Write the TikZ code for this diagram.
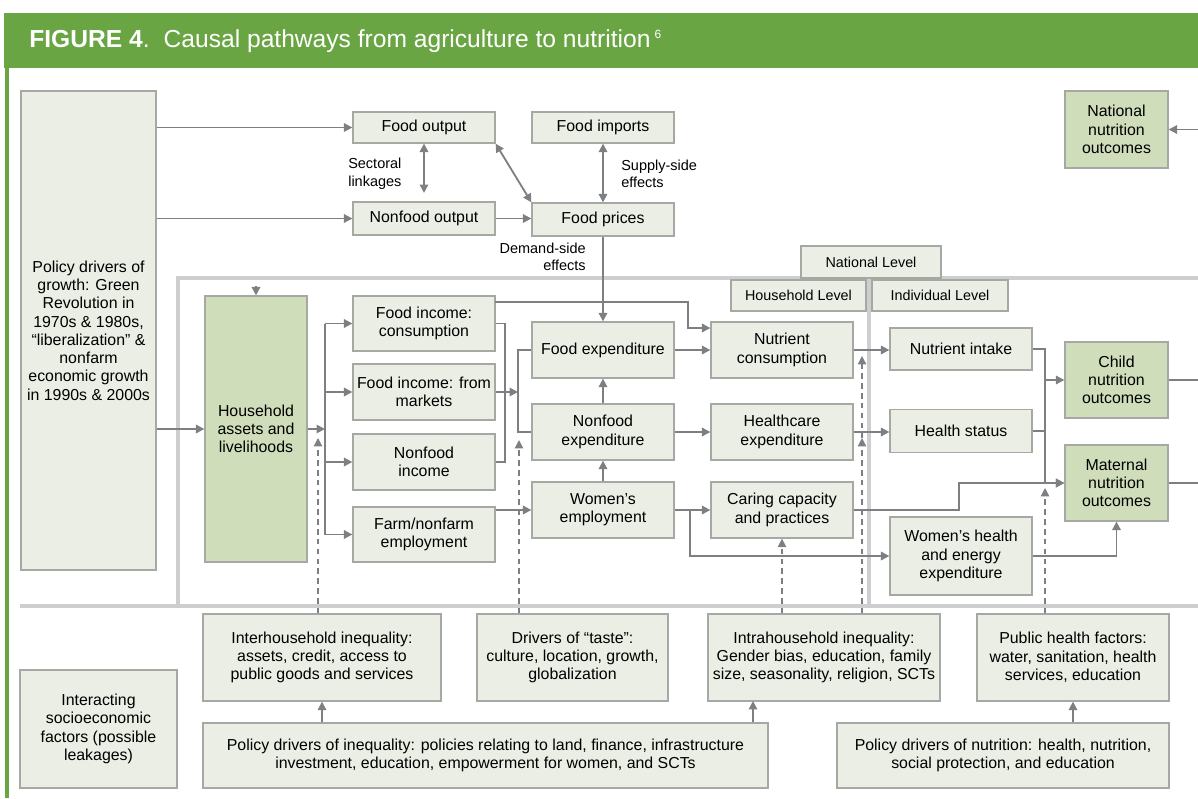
\documentclass[tikz,border=0pt]{standalone}
\usepackage{fontspec}
\setmainfont{Liberation Sans}
\usetikzlibrary{arrows.meta}
\definecolor{hdrgreen}{HTML}{6AA543}
\definecolor{boxfill}{HTML}{EBEEE4}
\definecolor{boxline}{HTML}{A6A8A3}
\definecolor{outfill}{HTML}{CFDDBA}
\definecolor{arrgray}{HTML}{7E7F83}
\definecolor{framegray}{HTML}{CDCECF}
\tikzset{
  box/.style 2 args={draw=boxline, fill=boxfill, line width=0.9pt, align=center, inner sep=0pt,
    minimum width=#1*0.025cm, minimum height=#2*0.025cm, font=\fontsize{11.3}{13}\selectfont},
  outbox/.style 2 args={box={#1}{#2}, fill=outfill},
  tab/.style 2 args={box={#1}{#2}, font=\fontsize{10.2}{12}\selectfont},
  lbl/.style={font=\fontsize{10.3}{12.5}\selectfont, inner sep=0pt},
  conn/.style={draw=arrgray, line width=1.3pt},
  arr/.style={conn, -{Triangle[length=6pt,width=6pt]}},
  dblarr/.style={conn, {Triangle[length=6pt,width=6pt]}-{Triangle[length=6pt,width=6pt]}},
  darr/.style={arr, line width=0.9pt, dash pattern=on 4pt off 3pt},
  frame/.style={draw=framegray, line width=2.8pt}
}

\begin{document}
\begin{tikzpicture}[x=0.025cm,y=-0.025cm]
\useasboundingbox (0,0) rectangle (1198,798);
% header band
\fill[hdrgreen] (4,13) rectangle (1198,68);
\draw[hdrgreen, line width=2.2pt] (7,68) -- (7,798);
\node[anchor=west, text=white, inner sep=0pt, font=\fontsize{17.5}{20}\selectfont] (title) at (29,41)
  {\textbf{FIGURE 4}.\hspace{10pt}Causal pathways from agriculture to nutrition\,\raisebox{6pt}{\fontsize{8.5}{9}\selectfont 6}};
% level frames
\draw[frame] (178,606) -- (178,278) -- (1198,278);
\draw[frame] (20,606) -- (1198,606);
\draw[frame] (869,278) -- (869,606);
\node[tab={140}{32}] (natl) at (871,262) {National Level};
\node[tab={135}{31}] (hhl) at (798.5,295.5) {Household Level};
\node[tab={136}{31}] (indl) at (940,295.5) {Individual Level};
\coordinate (rim) at (1198,0);

% top: growth and prices
\node[box={135}{479}] (pdg) at (88.5,330.5) {Policy drivers of\\growth: Green\\Revolution in\\1970s \& 1980s,\\“liberalization” \&\\nonfarm\\economic growth\\in 1990s \& 2000s};
\node[box={142}{31}] (fo) at (424,127.5) {Food output};
\node[box={142}{31}] (fimp) at (603,127.5) {Food imports};
\node[box={142}{33}] (nfo) at (424,218.5) {Nonfood output};
\node[box={142}{33}] (fp) at (603,219.5) {Food prices};
\node[lbl, anchor=west, align=left] (sect) at (348,174) {Sectoral\\linkages};
\node[lbl, anchor=west, align=left] (supp) at (621,174) {Supply-side\\effects};
\node[lbl, anchor=east, align=right] (dem) at (586,257) {Demand-side\\effects};

% household level
\node[outbox={102}{266}] (ha) at (256,429) {Household\\assets and\\livelihoods};
\node[box={142}{55}] (fic) at (424,323.5) {Food income:\\consumption};
\node[box={142}{56}] (fim) at (424,392) {Food income: from\\markets};
\node[box={142}{56}] (nfi) at (424,462) {Nonfood\\income};
\node[box={142}{55}] (fne) at (424,534.5) {Farm/nonfarm\\employment};
\node[box={142}{56}] (fe) at (603,350) {Food expenditure};
\node[box={142}{56}] (nfe) at (603,432) {Nonfood\\expenditure};
\node[box={142}{56}] (we) at (603,510) {Women’s\\employment};
\node[box={142}{56}] (nc) at (782,350) {Nutrient\\consumption};
\node[box={142}{56}] (he) at (782,432) {Healthcare\\expenditure};
\node[box={142}{56}] (cc) at (782,510) {Caring capacity\\and practices};

% individual level
\node[box={142}{42}] (ni) at (961,349) {Nutrient intake};
\node[box={142}{43}] (hs) at (961,431) {Health status};
\node[box={142}{78}] (wh) at (961,556) {Women’s health\\and energy\\expenditure};
\node[outbox={103}{76}] (cno) at (1116.5,380) {Child\\nutrition\\outcomes};
\node[outbox={103}{76}] (mno) at (1116.5,483) {Maternal\\nutrition\\outcomes};
\node[outbox={103}{77}] (nno) at (1116.5,129.5) {National\\nutrition\\outcomes};

% socioeconomic factors
\node[box={157}{118}] (isf) at (98.5,729) {Interacting\\socioeconomic\\factors (possible\\leakages)};
\node[box={238}{87}] (ihi) at (322,657.5) {Interhousehold inequality:\\assets, credit, access to\\public goods and services};
\node[box={191}{87}] (dt) at (572.5,657.5) {Drivers of “taste”:\\culture, location, growth,\\globalization};
\node[box={232}{87}] (iai) at (824,657.5) {Intrahousehold inequality:\\Gender bias, education, family\\size, seasonality, religion, SCTs};
\node[box={192}{87}] (phf) at (1073,657.5) {Public health factors:\\water, sanitation, health\\services, education};
\node[box={565}{65}] (pdi) at (485.5,755.5) {Policy drivers of inequality: policies relating to land, finance, infrastructure\\investment, education, empowerment for women, and SCTs};
\node[box={332}{65}] (pdn) at (1003,755.5) {Policy drivers of nutrition: health, nutrition,\\social protection, and education};

% connectors, top
\draw[arr] (pdg.east |- fo.west) -- (fo.west);
\draw[arr] (pdg.east |- nfo.west) -- (nfo.west);
\draw[arr] (pdg.east |- ha.west) -- (ha.west);
\draw[dblarr, shorten >=6pt] (fo.south) -- (nfo.north);
\draw[dblarr] (fo.south east) -- (fp.north west);
\draw[dblarr] (fimp.south) -- (fp.north);
\draw[arr] (nfo.east) -- (nfo.east -| fp.west);
\draw[arr] (fp.south) -- (fe.north);

% connectors, household
\coordinate (hat) at (256,286);
\draw[arr] (hat) -- (ha.north);
\coordinate (hb) at (325,431);
\draw[arr] (ha.east) -- (ha.east -| hb);
\draw[conn] (hb |- fic.west) -- (hb |- fne.west);
\draw[arr] (hb |- fic.west) -- (fic.west);
\draw[arr] (hb |- fim.west) -- (fim.west);
\draw[arr] (hb |- nfi.west) -- (nfi.west);
\draw[arr] (hb |- fne.west) -- (fne.west);
\coordinate (ib) at (505,392);
\draw[conn] (fic.east) -| (ib) |- (nfi.east);
\coordinate (eb) at (518,392);
\draw[arr] (fim.east) -- (eb);
\draw[conn] (fe.west) -| (eb) |- (nfe.west);
\draw[arr] (fne.east |- we.west) -- (we.west);
\draw[arr] (nfe.north) -- (fe.south);
\draw[arr] (we.north) -- (nfe.south);
\draw[arr] (fe.east) -- (nc.west);
\draw[arr] (nfe.east) -- (he.west);
\draw[arr] (we.east) -- (cc.west);
\coordinate (ficout) at (495,302);
\coordinate (nk) at (688,328);
\draw[arr] (ficout) -| (nk) -- (nk -| nc.west);
\coordinate (wj) at (690,510);
\draw[arr] (wj) |- (wh.west);

% connectors, individual
\draw[arr] (nc.east) -- (nc.east -| ni.west);
\draw[arr] (he.east) -- (he.east -| hs.west);
\coordinate (ob) at (1045,483);
\draw[arr] (ni.east) -| (ob) -- (mno.west);
\draw[arr] (ob |- cno.west) -- (cno.west);
\draw[conn] (hs.east) -- (hs.east -| ob);
\coordinate (cstep) at (959,510);
\draw[arr] (cc.east) -- (cstep) |- (mno.west);
\draw[arr] (wh.east) -| (mno.south);
\draw[conn] (cno.east) -- (cno.east -| rim);
\draw[conn] (mno.east) -- (mno.east -| rim);
\draw[arr] (nno.east -| rim) -- (nno.east);

% dashed influences from below
\coordinate (d1) at (318,438);
\draw[darr] (ihi.north -| d1) -- (d1);
\coordinate (d2) at (519,440);
\draw[darr] (dt.north -| d2) -- (d2);
\draw[darr] (iai.north -| cc.south) -- (cc.south);
\coordinate (d4) at (862,438);
\coordinate (d5) at (862,356);
\draw[darr] (iai.north -| d4) -- (d4);
\draw[darr] (d4) -- (d5);
\coordinate (d6) at (1045,488);
\draw[darr] (phf.north -| d6) -- (d6);

% policy drivers
\draw[arr] (pdi.north -| ihi.south) -- (ihi.south);
\coordinate (u1) at (753,701);
\draw[arr] (pdi.north -| u1) -- (u1);
\draw[arr] (pdn.north -| phf.south) -- (phf.south);
\end{tikzpicture}
\end{document}
